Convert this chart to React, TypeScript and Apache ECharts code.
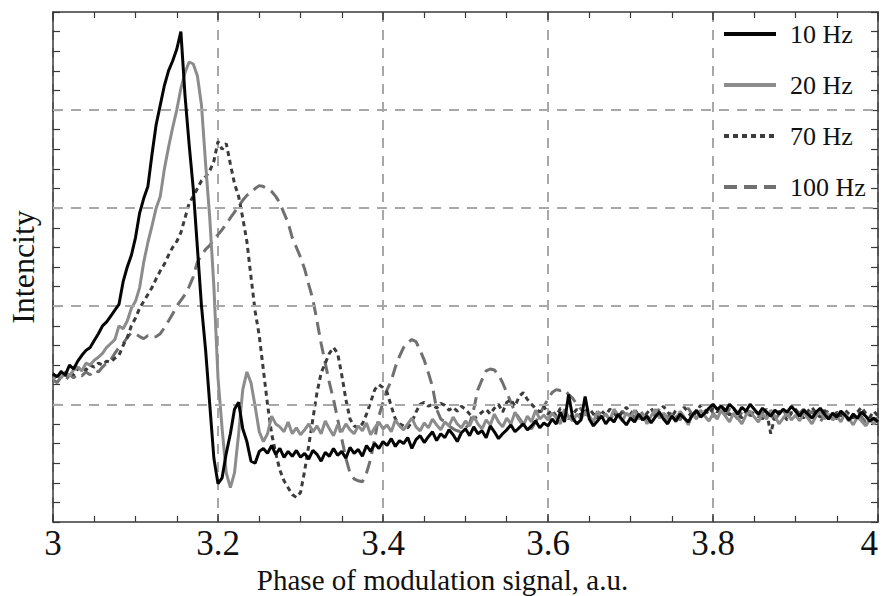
import React, { useEffect, useRef } from "react";
import * as echarts from "echarts";

const phase = [
  3.000, 3.005, 3.010, 3.015, 3.020, 3.025, 3.030, 3.035, 3.040, 3.045,
  3.050, 3.055, 3.060, 3.065, 3.070, 3.075, 3.080, 3.085, 3.090, 3.095,
  3.100, 3.105, 3.110, 3.115, 3.120, 3.125, 3.130, 3.135, 3.140, 3.145,
  3.150, 3.155, 3.160, 3.165, 3.170, 3.175, 3.180, 3.185, 3.190, 3.195,
  3.200, 3.205, 3.210, 3.215, 3.220, 3.225, 3.230, 3.235, 3.240, 3.245,
  3.250, 3.255, 3.260, 3.265, 3.270, 3.275, 3.280, 3.285, 3.290, 3.295,
  3.300, 3.305, 3.310, 3.315, 3.320, 3.325, 3.330, 3.335, 3.340, 3.345,
  3.350, 3.355, 3.360, 3.365, 3.370, 3.375, 3.380, 3.385, 3.390, 3.395,
  3.400, 3.405, 3.410, 3.415, 3.420, 3.425, 3.430, 3.435, 3.440, 3.445,
  3.450, 3.455, 3.460, 3.465, 3.470, 3.475, 3.480, 3.485, 3.490, 3.495,
  3.500, 3.505, 3.510, 3.515, 3.520, 3.525, 3.530, 3.535, 3.540, 3.545,
  3.550, 3.555, 3.560, 3.565, 3.570, 3.575, 3.580, 3.585, 3.590, 3.595,
  3.600, 3.605, 3.610, 3.615, 3.620, 3.625, 3.630, 3.635, 3.640, 3.645,
  3.650, 3.655, 3.660, 3.665, 3.670, 3.675, 3.680, 3.685, 3.690, 3.695,
  3.700, 3.705, 3.710, 3.715, 3.720, 3.725, 3.730, 3.735, 3.740, 3.745,
  3.750, 3.755, 3.760, 3.765, 3.770, 3.775, 3.780, 3.785, 3.790, 3.795,
  3.800, 3.805, 3.810, 3.815, 3.820, 3.825, 3.830, 3.835, 3.840, 3.845,
  3.850, 3.855, 3.860, 3.865, 3.870, 3.875, 3.880, 3.885, 3.890, 3.895,
  3.900, 3.905, 3.910, 3.915, 3.920, 3.925, 3.930, 3.935, 3.940, 3.945,
  3.950, 3.955, 3.960, 3.965, 3.970, 3.975, 3.980, 3.985, 3.990, 3.995,
  4.000,
];

const hz10 = [
  1.31, 1.28, 1.33, 1.30, 1.40, 1.36, 1.44, 1.50, 1.55, 1.58,
  1.65, 1.72, 1.80, 1.84, 1.90, 1.96, 2.02, 2.25, 2.40, 2.52,
  2.70, 2.95, 3.10, 3.22, 3.55, 3.85, 4.05, 4.25, 4.40, 4.50,
  4.62, 4.80, 4.15, 3.65, 3.20, 2.60, 2.00, 1.55, 1.00, 0.45,
  0.19, 0.25, 0.50, 0.70, 0.95, 1.02, 0.75, 0.62, 0.42, 0.40,
  0.52, 0.55, 0.50, 0.58, 0.49, 0.55, 0.46, 0.52, 0.47, 0.53,
  0.46, 0.50, 0.44, 0.53, 0.49, 0.42, 0.51, 0.47, 0.55, 0.48,
  0.52, 0.45, 0.56, 0.50, 0.54, 0.47, 0.58, 0.52, 0.60, 0.55,
  0.62, 0.58, 0.65, 0.57, 0.63, 0.60, 0.66, 0.55, 0.64, 0.68,
  0.61, 0.67, 0.72, 0.63, 0.70, 0.66, 0.74, 0.69, 0.62, 0.71,
  0.75, 0.68, 0.77, 0.70, 0.73, 0.66, 0.78, 0.72, 0.65, 0.70,
  0.74, 0.79, 0.72, 0.76, 0.80, 0.74, 0.78, 0.83, 0.76, 0.81,
  0.78, 0.85, 0.80, 0.92, 0.82, 1.10, 0.86, 0.80, 0.84, 1.08,
  0.85, 0.78, 0.83, 0.88, 0.80, 0.86, 0.82, 0.90, 0.84, 0.79,
  0.86, 0.82, 0.90, 0.84, 0.88, 0.81, 0.87, 0.92, 0.85, 0.80,
  0.88, 0.83, 0.90, 0.86, 0.82, 0.89, 0.94, 0.87, 0.91, 0.96,
  1.00, 0.95, 0.98, 0.93, 1.00, 0.96, 0.90, 0.97, 0.93, 1.00,
  0.95, 0.90, 0.96, 0.92, 0.88, 0.94, 0.90, 0.95, 0.92, 0.98,
  0.93, 0.88, 0.94, 0.90, 0.86, 0.92, 0.96, 0.90, 0.85, 0.91,
  0.87, 0.93, 0.89, 0.84, 0.90, 0.86, 0.92, 0.88, 0.83, 0.86,
  0.82,
];

const hz20 = [
  1.25, 1.30, 1.27, 1.33, 1.29, 1.35, 1.38, 1.34, 1.42, 1.40,
  1.45, 1.48, 1.52, 1.58, 1.62, 1.66, 1.80, 1.77, 1.85, 1.98,
  2.05, 2.19, 2.45, 2.65, 2.82, 3.00, 3.12, 3.40, 3.62, 3.82,
  4.00, 4.22, 4.38, 4.49, 4.47, 4.35, 4.05, 3.45, 2.90, 2.20,
  1.27, 0.75, 0.30, 0.15, 0.30, 0.70, 1.15, 1.33, 1.22, 0.98,
  0.72, 0.62, 0.70, 0.88, 0.80, 0.77, 0.72, 0.82, 0.70, 0.76,
  0.69, 0.74, 0.80, 0.72, 0.78, 0.70, 0.83, 0.75, 0.68, 0.79,
  0.72, 0.80, 0.74, 0.70, 0.78, 0.73, 0.81, 0.69, 0.76, 0.82,
  0.75, 0.79, 0.72, 0.84, 0.78, 0.74, 0.80, 0.86, 0.77, 0.73,
  0.81, 0.76, 0.85, 0.79, 0.74, 0.82, 0.78, 0.87, 0.80, 0.76,
  0.83, 0.78, 0.88, 0.80, 0.75, 0.84, 0.79, 0.90, 0.82, 0.77,
  0.86, 0.80, 0.92, 0.84, 0.78, 0.88, 0.82, 0.94, 0.85, 0.89,
  0.84, 0.91, 0.86, 0.80, 0.95, 0.87, 0.83, 0.90, 0.85, 0.92,
  0.88, 0.82, 0.93, 0.86, 0.90, 0.84, 0.95, 0.89, 0.83, 0.91,
  0.87, 0.94, 0.85, 0.90, 0.80, 0.88, 0.95, 0.86, 0.91, 0.84,
  0.89, 0.82, 0.93, 0.87, 0.79, 0.90, 0.85, 0.94, 0.88, 0.83,
  0.90, 0.85, 0.94, 0.88, 0.82, 0.91, 0.86, 0.80, 0.89, 0.93,
  0.87, 0.82, 0.90, 0.85, 0.94, 0.88, 0.80, 0.86, 0.91, 0.84,
  0.89, 0.83, 0.92, 0.86, 0.80, 0.88, 0.93, 0.85, 0.90, 0.84,
  0.88, 0.82, 0.91, 0.85, 0.79, 0.87, 0.83, 0.78, 0.84, 0.80,
  0.85,
];

const hz70 = [
  1.31, 1.27, 1.34, 1.29, 1.33, 1.30, 1.36, 1.38, 1.35, 1.40,
  1.38, 1.42, 1.40, 1.44, 1.43, 1.47, 1.50, 1.60, 1.68, 1.80,
  1.88, 1.98, 2.05, 2.12, 2.19, 2.28, 2.36, 2.43, 2.52, 2.60,
  2.66, 2.75, 2.90, 3.05, 3.12, 3.20, 3.28, 3.32, 3.38, 3.48,
  3.68, 3.60, 3.66, 3.45, 3.25, 3.12, 2.90, 2.66, 2.30, 1.95,
  1.70, 1.35, 1.00, 0.70, 0.50, 0.33, 0.22, 0.15, 0.08, 0.05,
  0.10, 0.32, 0.58, 0.85, 1.12, 1.32, 1.42, 1.52, 1.58, 1.52,
  1.30, 1.05, 0.85, 0.78, 0.76, 0.80, 0.90, 1.02, 1.15, 1.20,
  1.17, 1.12, 0.98, 0.85, 0.80, 0.78, 0.76, 0.82, 0.92, 1.00,
  1.02, 0.98, 1.00, 0.96, 1.01, 0.99, 0.94, 0.97, 0.93, 0.98,
  0.95, 0.90, 0.85, 0.88, 0.92, 0.95, 0.90, 0.96, 1.00, 0.92,
  1.02, 1.05, 0.98, 1.08, 1.12, 1.05, 1.00, 0.96, 0.92, 0.98,
  0.90, 0.94, 0.88, 0.96, 0.92, 0.85, 0.90, 0.95, 0.88, 0.93,
  0.96, 0.90, 0.86, 0.93, 0.89, 0.95, 0.91, 0.86, 0.92, 0.97,
  0.90, 0.95, 0.88, 0.84, 0.91, 0.96, 0.89, 0.93, 0.98, 0.92,
  0.87, 0.94, 0.90, 0.97, 0.92, 0.86, 0.93, 0.99, 0.94, 0.90,
  0.96, 0.92, 0.98, 0.94, 0.89, 0.95, 0.91, 0.86, 0.93, 0.88,
  0.94, 0.90, 0.85, 0.92, 0.70, 0.88, 0.93, 0.89, 0.84, 0.91,
  0.95, 0.90, 0.86, 0.93, 0.97, 0.91, 0.87, 0.94, 0.89, 0.85,
  0.92, 0.88, 0.94, 0.90, 0.86, 0.92, 0.97, 0.91, 0.87, 0.93,
  0.88,
];

const hz100 = [
  1.25, 1.22, 1.28, 1.24, 1.30, 1.27, 1.31, 1.29, 1.33, 1.30,
  1.35, 1.33, 1.38, 1.42, 1.45, 1.52, 1.58, 1.62, 1.68, 1.73,
  1.72, 1.69, 1.67, 1.70, 1.68, 1.69, 1.72, 1.78, 1.85, 1.92,
  2.00, 2.06, 2.12, 2.20, 2.30, 2.45, 2.52, 2.58, 2.62, 2.68,
  2.73, 2.78, 2.84, 2.90, 2.96, 3.02, 3.08, 3.13, 3.16, 3.20,
  3.23, 3.22, 3.20, 3.17, 3.12, 3.05, 2.95, 2.85, 2.70, 2.60,
  2.50, 2.38, 2.22, 2.07, 1.85, 1.62, 1.42, 1.22, 1.05, 0.85,
  0.65, 0.45, 0.30, 0.24, 0.22, 0.21, 0.30, 0.44, 0.65, 0.88,
  1.02, 1.15, 1.24, 1.38, 1.49, 1.58, 1.63, 1.66, 1.64, 1.55,
  1.45, 1.32, 1.18, 0.95, 0.85, 0.82, 0.78, 0.75, 0.73, 0.72,
  0.76, 0.80, 0.95, 1.15, 1.25, 1.34, 1.36, 1.35, 1.30, 1.22,
  1.12, 1.02, 0.92, 0.86, 0.80, 0.78, 0.75, 0.82, 0.90, 0.98,
  1.05, 1.12, 1.15, 1.14, 1.15, 1.10, 1.06, 1.00, 0.95, 0.90,
  0.88, 0.92, 0.86, 0.94, 0.90, 0.84, 0.91, 0.87, 0.93, 0.89,
  0.92, 0.86, 0.95, 0.90, 0.84, 0.92, 0.88, 0.96, 0.91, 0.86,
  0.93, 0.88, 0.84, 0.91, 0.96, 0.89, 0.94, 0.87, 0.92, 0.98,
  0.91, 0.86, 0.93, 0.89, 0.95, 0.90, 0.85, 0.92, 0.96, 0.88,
  0.93, 0.87, 0.91, 0.95, 0.89, 0.84, 0.90, 0.94, 0.88, 0.92,
  0.86, 0.91, 0.95, 0.88, 0.93, 0.87, 0.82, 0.89, 0.94, 0.90,
  0.85, 0.91, 0.88, 0.83, 0.90, 0.94, 0.87, 0.82, 0.88, 0.84,
  0.86,
];

const seriesNames = ["10 Hz", "20 Hz", "70 Hz", "100 Hz"];
const gridValues = [1, 2, 3, 4];

const FONT = "'Liberation Serif', 'Times New Roman', serif";

export default function App() {
  const ref = useRef<HTMLDivElement>(null);

  useEffect(() => {
    if (!ref.current) return;
    const chart = echarts.init(ref.current, null, { renderer: "svg" });
    const pairs = (ys: number[]) => phase.map((x, i) => [x, ys[i]]);

    const axisLine = { show: true, onZero: false, lineStyle: { color: "#3a3a3a", width: 1.5 } };
    const yBase = {
      type: "value",
      min: -0.2,
      max: 5,
      interval: 0.2,
      axisLine,
      axisTick: { show: true, inside: true, length: 7, lineStyle: { color: "#3a3a3a", width: 1.2 } },
      axisLabel: { show: false },
      splitLine: { show: false },
    };
    const xBase = {
      type: "value",
      min: 3,
      max: 4,
      interval: 0.2,
      axisLine,
      axisTick: { show: true, inside: true, length: 8, lineStyle: { color: "#3a3a3a", width: 1.5 } },
      minorTick: { show: true, splitNumber: 4, length: 6, lineStyle: { color: "#3a3a3a", width: 1.2 } },
    };

    const line = (name: string, ys: number[], color: string, type: any, z: number) => ({
      name,
      type: "line",
      data: pairs(ys),
      symbol: "none",
      showSymbol: false,
      z,
      lineStyle: { color, width: 3, type },
      itemStyle: { color },
    });

    chart.setOption({
      animation: false,
      grid: { left: 53, right: 5, top: 12, bottom: 74, containLabel: false, outerBoundsMode: "none" },
      legend: {
        data: seriesNames,
        orient: "vertical",
        left: 717,
        top: 16,
        itemWidth: 52,
        itemHeight: 14,
        itemGap: 25,
        itemStyle: { opacity: 0 },
        lineStyle: { width: 4 },
        textStyle: { fontFamily: FONT, fontSize: 26, color: "#111", padding: [0, 0, 0, 9] },
      },
      xAxis: [
        {
          ...xBase,
          position: "bottom",
          name: "Phase of modulation signal, a.u.",
          nameLocation: "middle",
          nameGap: 40,
          nameTextStyle: {
            fontFamily: FONT,
            fontSize: 29,
            color: "#111",
            padding: [0, 46, 0, 0],
            lineHeight: 29,
          },
          axisLabel: {
            show: true,
            margin: 4,
            fontFamily: FONT,
            fontSize: 35,
            color: "#111",
            alignMaxLabel: "right",
          },
          splitLine: { show: true, lineStyle: { color: "#a8a8a8", width: 2, type: [10, 8] } },
        },
        {
          ...xBase,
          position: "top",
          axisLabel: { show: false },
          splitLine: { show: false },
        },
      ],
      yAxis: [
        {
          ...yBase,
          position: "left",
          name: "Intencity",
          nameLocation: "middle",
          nameGap: 14,
          nameTextStyle: { fontFamily: FONT, fontSize: 32, color: "#111" },
        },
        { ...yBase, position: "right" },
      ],
      series: [
        {
          name: "grid",
          type: "line",
          data: [],
          z: 1,
          silent: true,
          markLine: {
            silent: true,
            symbol: "none",
            label: { show: false },
            lineStyle: { color: "#a8a8a8", width: 2, type: [10, 8] },
            data: gridValues.map((v) => ({ yAxis: v })),
          },
        },
        line("10 Hz", hz10, "#050505", "solid", 5),
        line("20 Hz", hz20, "#8c8c8c", "solid", 4),
        line("70 Hz", hz70, "#3c3c3c", [5, 4], 3),
        line("100 Hz", hz100, "#707070", [13, 7], 2),
      ],
    });

    return () => chart.dispose();
  }, []);

  return (
    <div
      ref={ref}
      style={{ position: "fixed", left: 0, top: 0, width: 883, height: 596, background: "#fff" }}
    />
  );
}
